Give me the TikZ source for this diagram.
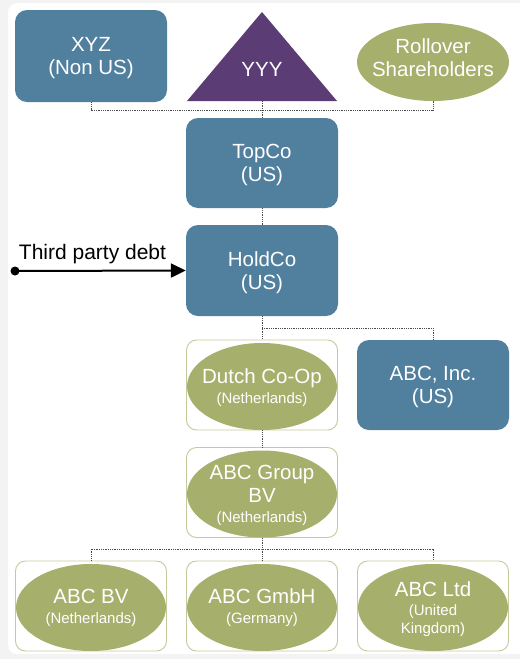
\documentclass[tikz,border=0pt]{standalone}
\usepackage{fontspec}
\setmainfont{Liberation Sans}
\usetikzlibrary{shapes.geometric,arrows.meta}
\definecolor{boxblue}{HTML}{517F9E}
\definecolor{purp}{HTML}{5B3C75}
\definecolor{grn}{HTML}{A6B06C}
\definecolor{grnline}{HTML}{C4CA9C}
\definecolor{panelgray}{HTML}{F3F3F3}
\definecolor{conn}{HTML}{4A4A4A}
\tikzset{
  bigtxt/.style={font=\fontsize{20.5}{23}\selectfont},
  bluebox/.style={fill=boxblue, rounded corners=12pt, minimum width=152pt, minimum height=91pt,
    text=white, align=center, inner sep=0pt, text depth=-1.5pt, bigtxt},
  greenframe/.style={draw=grnline, line width=0.9pt, fill=white, rounded corners=10pt,
    minimum width=151pt, minimum height=90pt, inner sep=0pt},
  greenoval/.style={ellipse, fill=grn, minimum width=150pt, minimum height=87pt, inner sep=0pt},
  ovaltxt/.style={text=white, align=center, inner sep=0pt, bigtxt},
  link/.style={draw=conn, line width=0.9pt, dash pattern=on 1pt off 0.8pt}
}
\newcommand{\smtxt}[1]{{\fontsize{15}{17}\selectfont #1}}
\begin{document}
\begin{tikzpicture}[x=1pt,y=-1pt]
\useasboundingbox (0,0) rectangle (520,659);
\fill[panelgray] (0,0) rectangle (520,659);
\fill[white, rounded corners=9pt] (8,3) rectangle (540,654);

% top row
\node[bluebox, minimum height=92pt] (xyz) at (91,56) {XYZ\\(Non US)};
\fill[purp] (262,12) -- (337,101) -- (187,101) -- cycle;
\coordinate (yyyb) at (262,101);
\node[ovaltxt] (yyy) at (262,69) {YYY};
\node[ellipse, fill=grn, minimum width=152pt, minimum height=78pt, inner sep=0pt] (roll) at (433,62) {};
\node[ovaltxt] (rolltxt) at (433,58) {Rollover\\Shareholders};

% middle
\node[bluebox, minimum height=90pt] (topco) at (262,163) {TopCo\\(US)};
\node[bluebox] (holdco) at (262,270.5) {HoldCo\\(US)};

% third party debt
\node[circle, fill=black, inner sep=0pt, minimum size=9pt] (dot) at (15,271) {};
\draw[line width=2pt, -{Triangle[length=15pt,width=14pt]}] (dot.center) -- (holdco.west);
\node[anchor=base, inner sep=0pt, font=\fontsize{21}{24}\selectfont, text=black] (debt) at (92.5,259) {Third party debt};

\node[greenframe] (dutchbox) at (262,385) {};
\node[greenoval] (dutch) at (262,386.5) {};
\node[ovaltxt] (dutchtxt) at (262,387.5) {Dutch Co-Op\\[-3pt]\smtxt{(Netherlands)}};
\node[bluebox, minimum height=90pt] (abcinc) at (433,385) {ABC, Inc.\\(US)};

\node[greenframe] (groupbox) at (262,492.5) {};
\node[greenoval] (group) at (262,494) {};
\node[ovaltxt] (grouptxt) at (262,495) {ABC Group\\BV\\[-3pt]\smtxt{(Netherlands)}};

% bottom row
\node[greenframe] (bvbox) at (91,606) {};
\node[greenoval] (bv) at (91,607.5) {};
\node[ovaltxt] (bvtxt) at (91,608) {ABC BV\\[-3pt]\smtxt{(Netherlands)}};
\node[greenframe] (gmbhbox) at (262,606) {};
\node[greenoval] (gmbh) at (262,607.5) {};
\node[ovaltxt] (gmbhtxt) at (262,608) {ABC GmbH\\[-3pt]\smtxt{(Germany)}};
\node[greenframe] (ltdbox) at (433,606) {};
\node[greenoval] (ltd) at (433,607.5) {};
\node[ovaltxt] (ltdtxt) at (433,609) {ABC Ltd\\[-4pt]\smtxt{(United}\\[-5pt]\smtxt{Kingdom)}};

% connectors
\coordinate (bus1) at (262,110);
\coordinate (bus2) at (262,328);
\coordinate (bus3) at (262,549);
\draw[link] (xyz.south) |- (bus1) -| (roll.south);
\draw[link] (yyyb) -- (topco.north);
\draw[link] (topco.south) -- (holdco.north);
\draw[link] (holdco.south) -- (dutchbox.north);
\draw[link] (bus2) -| (abcinc.north);
\draw[link] (dutchbox.south) -- (groupbox.north);
\draw[link] (groupbox.south) -- (gmbhbox.north);
\draw[link] (bvbox.north) |- (bus3) -| (ltdbox.north);
\end{tikzpicture}
\end{document}
